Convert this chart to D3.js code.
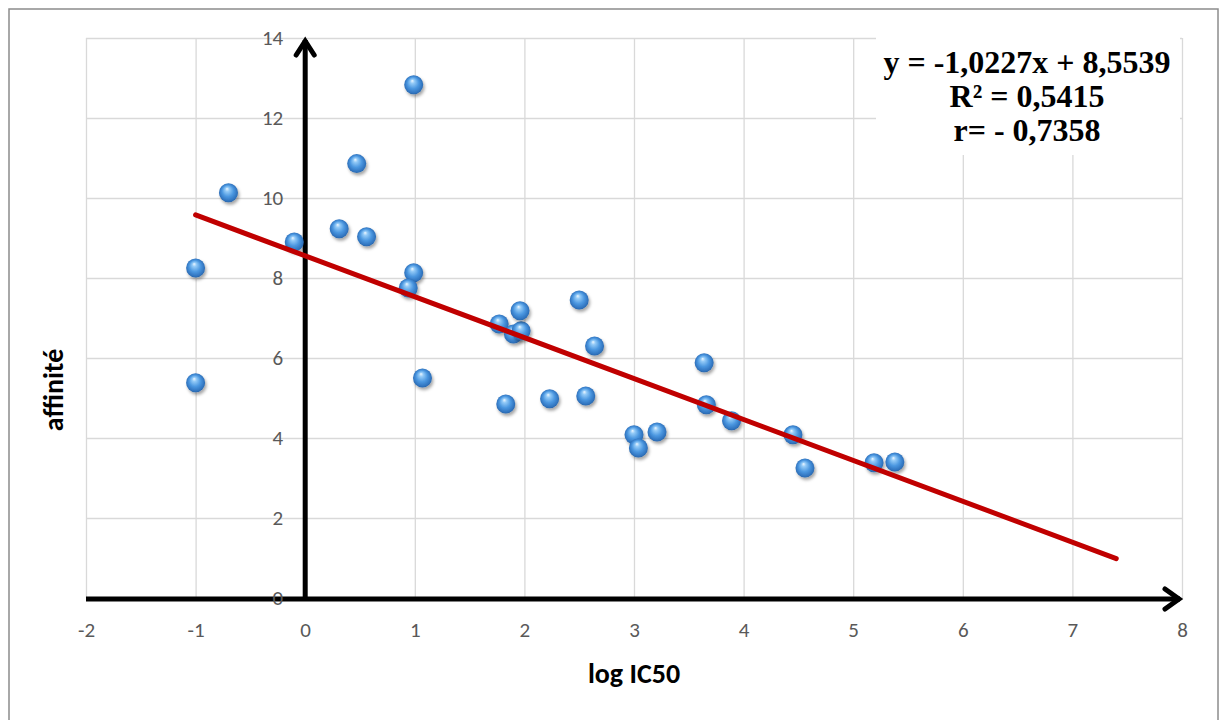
<!DOCTYPE html>
<html>
<head>
<meta charset="utf-8">
<script src="https://cdn.jsdelivr.net/npm/d3@7"></script>
<style>
    body { margin: 0; background: #ffffff; }
    #chart-div { width: 1224px; height: 720px; }
</style>
</head>
<body>
<div id="chart-div"></div>
<script>
// log IC50 (x) and affinité (y)
const xValues = [-1.0, -1.0, -0.7, -0.1, 0.31, 0.47, 0.56, 0.99, 0.99, 0.94, 1.07,
    1.77, 1.9, 1.97, 1.96, 1.83, 2.23, 2.5, 2.64, 2.56, 3.0, 3.04, 3.21,
    3.64, 3.66, 3.89, 4.45, 4.56, 5.19, 5.38]
const yValues = [8.25, 5.38, 10.13, 8.9, 9.23, 10.86, 9.03, 12.83, 8.13, 7.75, 5.5,
    6.85, 6.6, 6.68, 7.18, 4.85, 4.98, 7.45, 6.3, 5.05, 4.08, 3.75, 4.15,
    5.88, 4.83, 4.43, 4.08, 3.25, 3.38, 3.4]

const xTicks = [-2, -1, 0, 1, 2, 3, 4, 5, 6, 7, 8]
const yTicks = [0, 2, 4, 6, 8, 10, 12, 14]

const trendSlope = -1.0227
const trendIntercept = 8.5539
const trendRange = [-1, 7.4]

const equationLines = ["y = -1,0227x + 8,5539", "R\u00b2 = 0,5415", "r= - 0,7358"]
const xTitle = "log IC50"
const yTitle = "affinité"

function drawChart() {
    const width = 1224
    const height = 720
    const margin = { top: 38, left: 86, right: 42, bottom: 122 }
    const boundedWidth = width - margin.left - margin.right
    const boundedHeight = height - margin.top - margin.bottom
    const labelFont = "Carlito, Calibri, Lato, sans-serif"
    // plain hyphen for negatives, like the original
    const tickFormat = d => String(d)

    const svg = d3.select("#chart-div").append("svg")
        .attr("width", width)
        .attr("height", height)

    const defs = svg.append("defs")

    const grad = defs.append("radialGradient")
        .attr("id", "sphere-grad")
        .attr("cx", "50%").attr("cy", "50%").attr("r", "55%")
        .attr("fx", "42%").attr("fy", "28%")
    grad.append("stop").attr("offset", "0%").attr("stop-color", "#eef7ff")
    grad.append("stop").attr("offset", "20%").attr("stop-color", "#93caf7")
    grad.append("stop").attr("offset", "55%").attr("stop-color", "#4b97e0")
    grad.append("stop").attr("offset", "86%").attr("stop-color", "#2f72bd")
    grad.append("stop").attr("offset", "100%").attr("stop-color", "#255a94")

    const shadow = defs.append("filter")
        .attr("id", "sphere-shadow")
        .attr("x", "-50%").attr("y", "-50%").attr("width", "200%").attr("height", "200%")
    shadow.append("feDropShadow")
        .attr("dx", 1.5).attr("dy", 2.5)
        .attr("stdDeviation", 1.8)
        .attr("flood-color", "#000000")
        .attr("flood-opacity", 0.35)

    // outer chart border
    svg.append("rect")
        .attr("x", 9).attr("y", 9)
        .attr("width", 1209).attr("height", 714)
        .attr("fill", "#ffffff")
        .attr("stroke", "#8c8c8c")
        .attr("stroke-width", 1.5)

    const chart = svg.append("g")
        .attr("transform", `translate(${margin.left}, ${margin.top})`)

    const xScale = d3.scaleLinear().domain([-2, 8]).range([0, boundedWidth])
    const yScale = d3.scaleLinear().domain([0, 14]).range([boundedHeight, 0])

    // gridlines
    chart.append("g")
        .attr("transform", `translate(0, ${boundedHeight})`)
        .call(d3.axisBottom(xScale).tickValues(xTicks).tickSize(-boundedHeight).tickFormat(""))
        .call(g => g.select(".domain").remove())
        .call(g => g.selectAll("line").attr("stroke", "#d9d9d9").attr("stroke-width", 1.3))
    chart.append("g")
        .call(d3.axisLeft(yScale).tickValues(yTicks).tickSize(-boundedWidth).tickFormat(""))
        .call(g => g.select(".domain").remove())
        .call(g => g.selectAll("line").attr("stroke", "#d9d9d9").attr("stroke-width", 1.3))

    // black arrow axes
    const x0 = xScale(0)
    const y0 = yScale(0) + 1
    const axisStyle = g => g.attr("stroke", "#000000").attr("stroke-width", 5)
        .attr("fill", "none").attr("stroke-linejoin", "miter").attr("stroke-linecap", "butt")

    chart.append("path")
        .attr("d", `M${xScale(-2)},${y0} L${xScale(8) - 2},${y0}`)
        .call(axisStyle)
    chart.append("path")
        .attr("d", `M${xScale(8) - 17},${y0 - 10} L${xScale(8) - 3},${y0} L${xScale(8) - 17},${y0 + 10}`)
        .call(axisStyle)
        .attr("stroke-linecap", "round")

    chart.append("path")
        .attr("d", `M${x0},${y0} L${x0},${yScale(14) + 2}`)
        .call(axisStyle)
    chart.append("path")
        .attr("d", `M${x0 - 9},${yScale(14) + 17} L${x0},${yScale(14) + 3} L${x0 + 9},${yScale(14) + 17}`)
        .call(axisStyle)
        .attr("stroke-linecap", "round")

    // tick labels
    chart.append("g")
        .attr("transform", `translate(0, ${boundedHeight})`)
        .call(d3.axisBottom(xScale).tickValues(xTicks).tickFormat(tickFormat).tickSize(0).tickPadding(24))
        .call(g => g.select(".domain").remove())
        .call(g => g.selectAll("text")
            .attr("fill", "#595959")
            .style("font-family", labelFont)
            .style("font-size", "21px"))

    chart.append("g")
        .attr("transform", `translate(${x0}, 0)`)
        .call(d3.axisLeft(yScale).tickValues(yTicks).tickFormat(tickFormat).tickSize(0).tickPadding(22))
        .call(g => g.select(".domain").remove())
        .call(g => g.selectAll("text")
            .attr("fill", "#595959")
            .style("font-family", labelFont)
            .style("font-size", "21px"))

    // data points
    const points = d3.zip(xValues, yValues)
    chart.selectAll(".point")
        .data(points)
        .join("circle")
        .attr("class", "point")
        .attr("cx", d => xScale(d[0]))
        .attr("cy", d => yScale(d[1]))
        .attr("r", 9.5)
        .attr("fill", "url(#sphere-grad)")
        .attr("filter", "url(#sphere-shadow)")

    // linear trendline
    const trend = trendRange.map(x => [x, trendSlope * x + trendIntercept])
    chart.append("path")
        .datum(trend)
        .attr("d", d3.line().x(d => xScale(d[0])).y(d => yScale(d[1])))
        .attr("stroke", "#c00000")
        .attr("stroke-width", 5)
        .attr("stroke-linecap", "round")
        .attr("fill", "none")

    // equation label
    svg.append("rect")
        .attr("x", 876).attr("y", 30)
        .attr("width", 304).attr("height", 125)
        .attr("fill", "#ffffff")

    svg.append("g").selectAll("text")
        .data(equationLines)
        .join("text")
        .attr("x", 1027)
        .attr("y", (d, i) => 73 + i * 34)
        .attr("text-anchor", "middle")
        .style("font-family", "'Liberation Serif', 'Times New Roman', serif")
        .style("font-weight", "bold")
        .style("font-size", "32px")
        .attr("fill", "#000000")
        .text(d => d)

    // axis titles
    svg.append("text")
        .attr("x", margin.left + boundedWidth / 2)
        .attr("y", 683)
        .attr("text-anchor", "middle")
        .style("font-family", labelFont)
        .style("font-weight", "bold")
        .style("font-size", "28px")
        .text(xTitle)

    svg.append("text")
        .attr("transform", "translate(63, 390) rotate(-90)")
        .attr("text-anchor", "middle")
        .style("font-family", labelFont)
        .style("font-weight", "bold")
        .style("font-size", "28px")
        .text(yTitle)
}

drawChart()
</script>
</body>
</html>
